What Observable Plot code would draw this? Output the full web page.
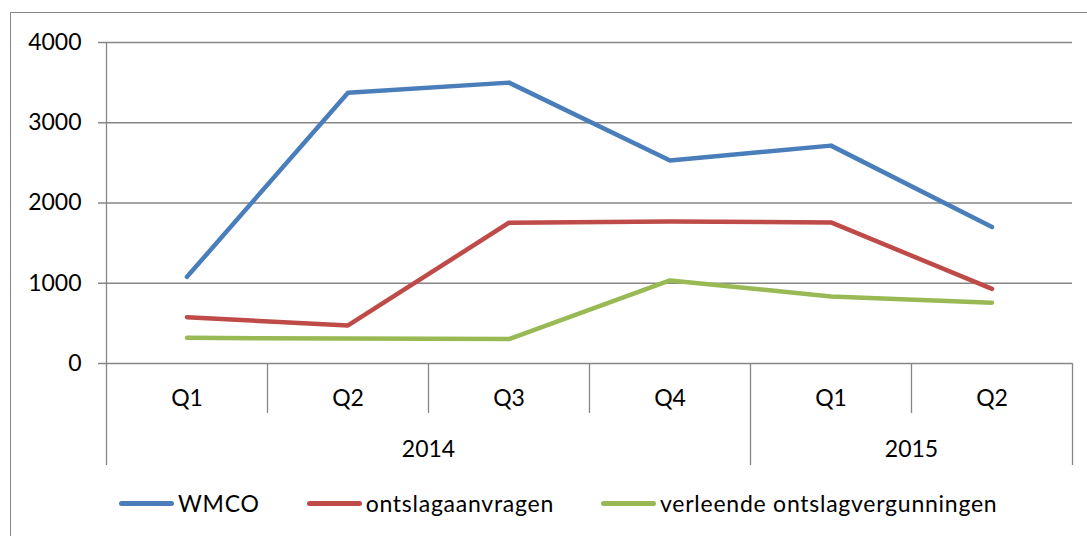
<!DOCTYPE html>
<html>
<head>
<meta charset="utf-8">
<script src="https://cdn.jsdelivr.net/npm/d3@7"></script>
<script src="https://cdn.jsdelivr.net/npm/@observablehq/plot@0.6"></script>
<style>
  html, body { margin: 0; padding: 0; background: #fff; width: 1087px; height: 536px; overflow: hidden; }
  #frame { position: absolute; left: 10px; top: 12px; width: 1200px; height: 600px; border: 1.3px solid #878787; box-sizing: border-box; }
  #chart { position: absolute; left: 0; top: 0; }
  #legend { position: absolute; left: 119px; top: 486px; height: 34px; display: flex; align-items: center;
            font-family: Lato, sans-serif; font-size: 23px; letter-spacing: 0.75px; color: #000; white-space: nowrap; }
  .item { display: flex; align-items: center; margin-right: 47px; }
  .sw { width: 55px; height: 5px; border-radius: 3px; margin-right: 4px; }
</style>
</head>
<body>
<div id="frame"></div>
<div id="chart"></div>
<div id="legend"></div>
<script>
const quarters = ["Q1", "Q2", "Q3", "Q4", "Q1", "Q2"];
const years = ["2014", "2014", "2014", "2014", "2015", "2015"];
const wmco = [1080, 3375, 3500, 2530, 2715, 1700];
const aanvragen = [577, 474, 1754, 1768, 1758, 930];
const vergunningen = [320, 310, 305, 1035, 835, 757];
const seriesNames = ["WMCO", "ontslagaanvragen", "verleende ontslagvergunningen"];
const seriesColors = ["#4A7EBB", "#BE4B48", "#98B954"];
const yTicks = [0, 1000, 2000, 3000, 4000];

const seriesValues = [wmco, aanvragen, vergunningen];
const rows = [];
seriesNames.forEach((name, s) => {
  seriesValues[s].forEach((v, i) => rows.push({ series: name, i, value: v }));
});

// category boundaries
const n = quarters.length;
const boundaries = d3.range(n + 1);
const yearBoundaries = boundaries.filter(b => b === 0 || b === n || years[b] !== years[b - 1]);
const catBoundaries = boundaries.filter(b => !yearBoundaries.includes(b));
const yearGroups = d3.groups(years.map((y, i) => ({ y, i })), d => d.y)
  .map(([y, arr]) => ({ year: y, center: (arr[0].i + arr[arr.length - 1].i + 1) / 2 }));

const gridColor = "#868686";
const font = "Lato, sans-serif";

const chart = Plot.plot({
  width: 1087,
  height: 480,
  marginLeft: 106,
  marginRight: 15,
  marginTop: 42,
  marginBottom: 117,
  style: { fontFamily: font, fontSize: "23px", color: "#000", background: "transparent", overflow: "visible" },
  x: { domain: [0, n], axis: null },
  y: { domain: [0, 4000], axis: null },
  color: { domain: seriesNames, range: seriesColors },
  marks: [
    Plot.ruleY(yTicks, { stroke: gridColor, strokeWidth: 1.3, strokeOpacity: 1, insetLeft: -8 }),
    Plot.axisY({ ticks: yTicks, tickSize: 0, tickPadding: 25, label: null, tickFormat: d => String(d),
                 fontSize: 23, fontFamily: font, fill: "#000" }),
    Plot.ruleX([0], { y1: 4000, y2: 0, stroke: gridColor, strokeWidth: 1.3, insetBottom: -102 }),
    Plot.ruleX(yearBoundaries.filter(b => b !== 0), { y1: 0, y2: 0, stroke: gridColor, strokeWidth: 1.3, insetBottom: -102 }),
    Plot.ruleX(catBoundaries, { y1: 0, y2: 0, stroke: gridColor, strokeWidth: 1.3, insetBottom: -50 }),
    Plot.line(rows, { x: d => d.i + 0.5, y: "value", z: "series", stroke: "series", strokeWidth: 4.5,
                      strokeLinecap: "round", strokeLinejoin: "round" }),
    Plot.text(quarters, { x: (d, i) => i + 0.5, y: () => 0, text: d => d, dy: 35, fontSize: 23, fill: "#000", lineAnchor: "middle" }),
    Plot.text(yearGroups, { x: "center", y: () => 0, text: "year", dy: 86, fontSize: 23, fill: "#000", lineAnchor: "middle" })
  ]
});
document.getElementById("chart").appendChild(chart);

const legend = document.getElementById("legend");
seriesNames.forEach((name, s) => {
  const item = document.createElement("div");
  item.className = "item";
  const sw = document.createElement("div");
  sw.className = "sw";
  sw.style.background = seriesColors[s];
  const label = document.createElement("span");
  label.textContent = name;
  item.appendChild(sw);
  item.appendChild(label);
  legend.appendChild(item);
});
</script>
</body>
</html>
